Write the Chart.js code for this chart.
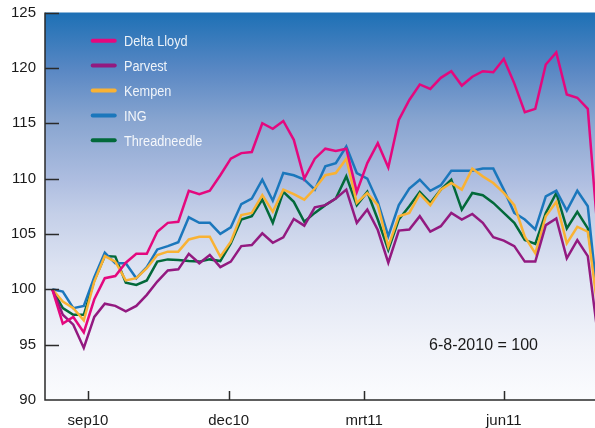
<!DOCTYPE html>
<html>
<head>
<meta charset="utf-8">
<script src="https://cdn.jsdelivr.net/npm/chart.js@4/dist/chart.umd.min.js"></script>
<style>
  html, body { margin: 0; padding: 0; background: #fff; }
  #wrap { width: 595px; height: 428px; }
</style>
</head>
<body>
<div id="wrap"><canvas id="chart" width="595" height="428"></canvas></div>
<script>
// weekly index, 6-8-2010 = 100
const seriesNames = ['Delta Lloyd', 'Parvest', 'Kempen', 'ING', 'Threadneedle'];
const seriesColors = ['#e4087e', '#931a80', '#f9b234', '#1b77bc', '#02693a'];

const deltaLloyd = [100, 96.9, 97.5, 96.1, 99.1, 101.0, 101.2, 102.4, 103.2, 103.2, 105.2, 106.0, 106.1,
  108.9, 108.6, 108.9, 110.3, 111.8, 112.3, 112.4, 115.0, 114.5, 115.2, 113.5, 110.0, 111.8, 112.7, 112.5,
  112.7, 108.8, 111.4, 113.2, 111.0, 115.3, 117.1, 118.5, 118.1, 119.1, 119.7, 118.4,
  119.2, 119.7, 119.6, 120.8, 118.6, 116.0, 116.3, 120.3, 121.4, 117.6, 117.3, 116.3, 104.5];
const parvest = [100, 97.7, 96.8, 94.7, 97.5, 98.7, 98.5, 98.0, 98.5, 99.5, 100.7, 101.7, 101.8,
  103.2, 102.35, 103.1, 102.0, 102.5, 103.9, 104.0, 105.05, 104.2, 104.7, 106.35, 105.75, 107.4, 107.6, 108.2,
  109.0, 106.0, 107.2, 105.35, 102.4, 105.3, 105.4, 106.6, 105.2, 105.7, 106.9, 106.3,
  106.8, 106.0, 104.7, 104.4, 103.9, 102.5, 102.5, 105.8, 106.4, 102.8, 104.45, 103.0, 95.5];
const kempen = [100, 98.9, 98.3, 97.2, 100.7, 103.0, 102.5, 100.8, 101.0, 101.9, 103.1, 103.4, 103.4,
  104.5, 104.75, 104.75, 102.95, 104.3, 106.7, 106.9, 108.5, 107.0, 109.0, 108.6, 108.1, 109.1, 110.3, 110.5,
  111.8, 107.8, 108.7, 107.6, 103.85, 106.6, 106.9, 108.6, 107.6, 109.0, 109.6, 109.0,
  110.9, 110.2, 109.6, 108.7, 107.6, 104.75, 103.25, 106.6, 107.9, 104.15, 105.65, 105.2, 97.8];
const ing = [100, 99.8, 98.3, 98.5, 101.1, 103.3, 102.35, 102.35, 101.0, 102.0, 103.6, 103.9, 104.25,
  106.5, 106.0, 106.0, 105.0, 105.6, 107.7, 108.2, 109.9, 108.0, 110.5, 110.3, 109.9, 109.0, 111.1, 111.4,
  112.9, 110.5, 110.0, 107.9, 104.8, 107.6, 109.1, 109.9, 108.9, 109.4, 110.7, 110.7,
  110.7, 110.9, 110.9, 109.0, 106.9, 106.3, 105.4, 108.4, 108.9, 107.1, 108.9, 107.5, 98.5];
const threadneedle = [100, 98.3, 97.7, 97.7, 100.8, 103.0, 102.95, 100.6, 100.4, 100.8, 102.5, 102.7, 102.65,
  102.55, 102.5, 102.7, 102.55, 104.15, 106.3, 106.6, 108.1, 106.0, 108.8, 107.9, 106.1, 106.9, 107.6, 108.2,
  110.2, 107.6, 108.8, 106.3, 103.55, 106.3, 107.5, 108.8, 107.8, 109.0, 109.9, 107.2,
  108.7, 108.5, 107.8, 106.9, 106.0, 104.45, 104.1, 106.9, 108.7, 105.5, 107.0, 105.5, 99.0];

const tickWeeks = [3.4, 16.8, 29.7, 43.0];
const tickLabels = ['sep10', 'dec10', 'mrt11', 'jun11'];
const yMin = 90, yMax = 125, yStep = 5;
const baseNote = '6-8-2010 = 100';

const allSeries = [deltaLloyd, parvest, kempen, ing, threadneedle];

const decor = {
  id: 'decor',
  beforeDraw(chart) {
    let {ctx, chartArea: a} = chart;
    let g = ctx.createLinearGradient(0, a.top, 0, a.bottom);
    g.addColorStop(0, '#1d70b5');
    g.addColorStop(0.15, '#5a88c4');
    g.addColorStop(0.28, '#88a5d0');
    g.addColorStop(0.43, '#adbde0');
    g.addColorStop(0.52, '#c4cfe8');
    g.addColorStop(0.66, '#dde3f2');
    g.addColorStop(0.87, '#f2f4fa');
    g.addColorStop(1, '#fbfcfe');
    ctx.save();
    ctx.fillStyle = g;
    ctx.fillRect(a.left, a.top, a.right - a.left, a.bottom - a.top);
    ctx.restore();
  },
  afterDraw(chart) {
    let {ctx, chartArea: a} = chart;
    let xs = chart.scales.x, ys = chart.scales.y;
    ctx.save();

    // axes with inward ticks
    ctx.strokeStyle = '#2a2a2a';
    ctx.lineWidth = 1.5;
    ctx.beginPath();
    ctx.moveTo(a.left, a.top);
    ctx.lineTo(a.left, a.bottom);
    ctx.lineTo(a.right, a.bottom);
    for (let v = yMin + yStep; v <= yMax; v += yStep) {
      let py = Math.round(ys.getPixelForValue(v)) + 0.5;
      ctx.moveTo(a.left, py);
      ctx.lineTo(a.left + 14, py);
    }
    tickWeeks.forEach(w => {
      let px = Math.round(xs.getPixelForValue(w)) + 0.5;
      ctx.moveTo(px, a.bottom);
      ctx.lineTo(px, a.bottom - 9);
    });
    ctx.stroke();

    // legend inside the plot, narrow lettering
    ctx.font = '15.5px "Liberation Sans", Arial, sans-serif';
    ctx.textBaseline = 'alphabetic';
    chart.data.datasets.forEach((ds, i) => {
      let cy = 40.7 + i * 24.9;
      ctx.strokeStyle = ds.borderColor;
      ctx.lineWidth = 4;
      ctx.lineCap = 'round';
      ctx.beginPath();
      ctx.moveTo(92.7, cy);
      ctx.lineTo(114.7, cy);
      ctx.stroke();
      ctx.save();
      ctx.translate(124, cy + 5.5);
      ctx.scale(0.82, 1);
      ctx.fillStyle = 'rgba(255,255,255,0.9)';
      ctx.fillText(ds.label, 0, 0);
      ctx.restore();
    });

    // base note
    ctx.fillStyle = '#1a1a1a';
    ctx.font = '16px "Liberation Sans", Arial, sans-serif';
    ctx.fillText(baseNote, 429, 349.7);
    ctx.restore();
  }
};

new Chart(document.getElementById('chart'), {
  type: 'line',
  data: {
    datasets: allSeries.map((series, i) => ({
      label: seriesNames[i],
      data: series.map((v, w) => ({x: w, y: v})),
      borderColor: seriesColors[i],
      borderWidth: 2.5,
      pointRadius: 0,
      tension: 0,
      fill: false
    }))
  },
  options: {
    responsive: false,
    animation: false,
    devicePixelRatio: 1,
    layout: { padding: { top: 12.5, right: 0, left: 0, bottom: 0 } },
    plugins: { legend: { display: false }, tooltip: { enabled: false } },
    scales: {
      x: {
        type: 'linear',
        min: -0.695,
        max: 51.686,
        grid: { display: false, drawTicks: false },
        border: { display: false },
        afterBuildTicks: s => { s.ticks = tickWeeks.map(v => ({ value: v })); },
        afterFit: s => { s.height = 28; s.paddingLeft = 0; s.paddingRight = 0; },
        ticks: {
          autoSkip: false,
          maxRotation: 0,
          padding: 12,
          color: '#1a1a1a',
          font: { family: '"Liberation Sans", Arial, sans-serif', size: 15 },
          callback: (v, i) => tickLabels[i]
        }
      },
      y: {
        min: yMin,
        max: yMax,
        grid: { display: false, drawTicks: false },
        border: { display: false },
        afterFit: s => { s.width = 45; s.paddingTop = 0; s.paddingBottom = 0; },
        ticks: {
          stepSize: yStep,
          padding: 9,
          color: '#1a1a1a',
          font: { family: '"Liberation Sans", Arial, sans-serif', size: 15 }
        }
      }
    }
  },
  plugins: [decor]
});
</script>
</body>
</html>
